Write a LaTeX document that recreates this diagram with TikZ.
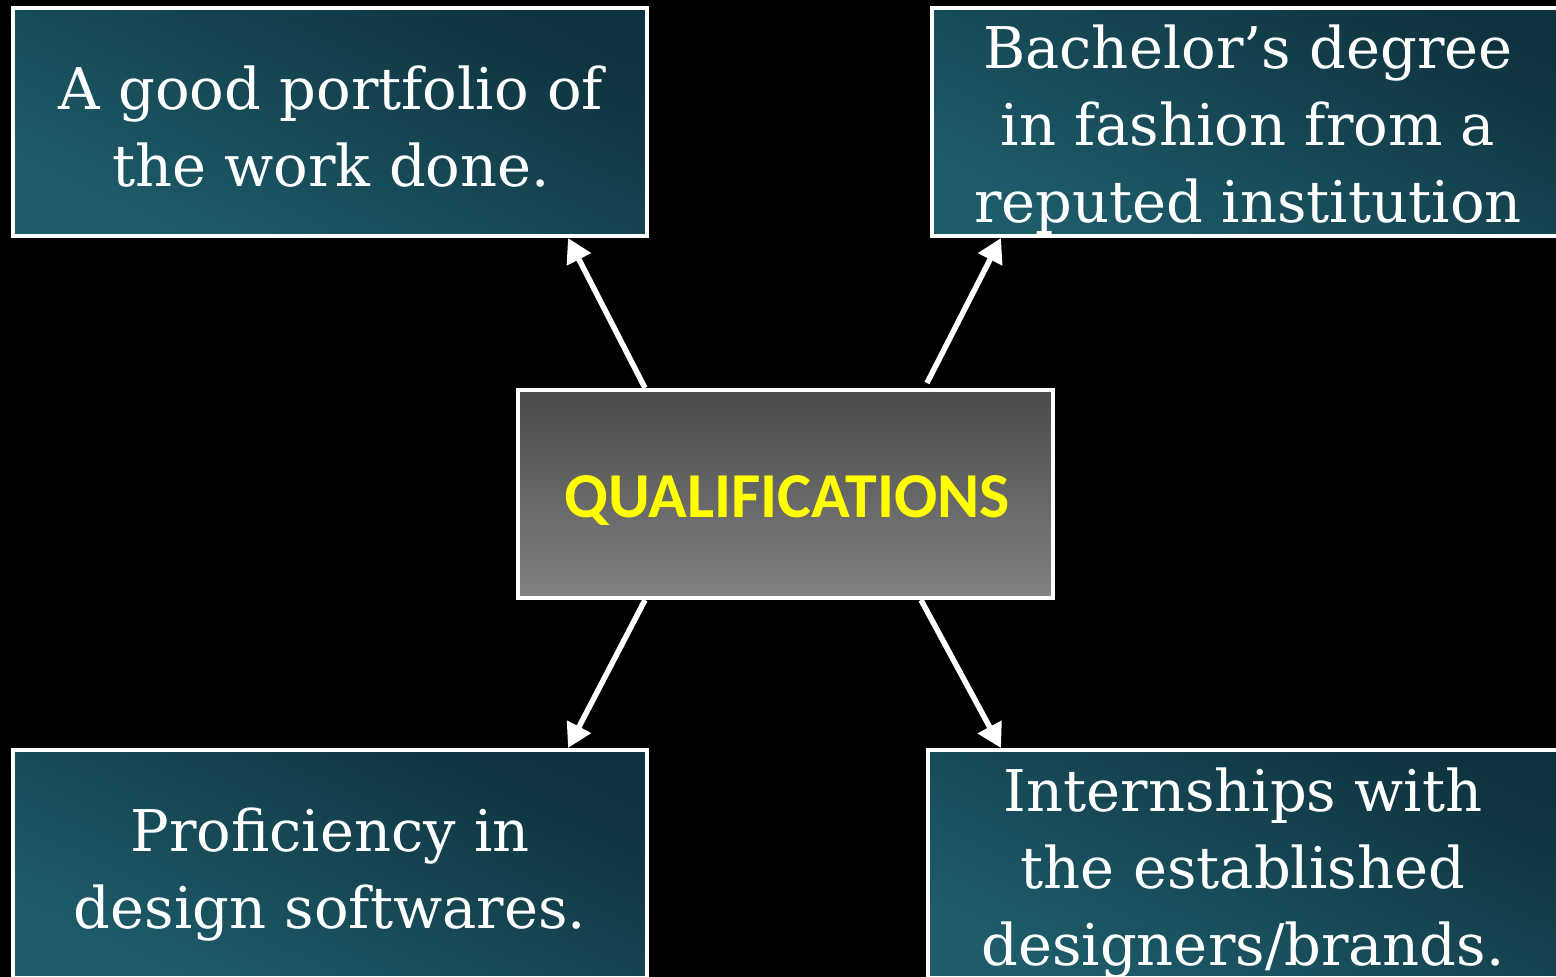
\documentclass[tikz,border=0pt]{standalone}
\usepackage{fontspec}
\newfontfamily\calib{Carlito}
\newfontfamily\serifb{DejaVu Serif}
\usetikzlibrary{arrows.meta}
\definecolor{tealL}{HTML}{1E5C6A}
\definecolor{tealD}{HTML}{0E333E}
\definecolor{grayT}{HTML}{4A4A4A}
\definecolor{grayB}{HTML}{828282}
\definecolor{qyellow}{HTML}{FFFF00}
\tikzset{
  tealbox/.style={draw=white, line width=4pt, rectangle, minimum width=634pt, minimum height=228pt, inner sep=0pt,
    shading=axis, top color=tealD, bottom color=tealL, shading angle=-25},
  centerbox/.style={draw=white, line width=4pt, rectangle, minimum width=535pt, minimum height=208pt, inner sep=0pt,
    top color=grayT, bottom color=grayB},
  boxtext/.style={text=white, align=center, font=\serifb\fontsize{57.5}{77}\selectfont, inner sep=0pt, anchor=base},
  arr/.style={draw=white, line width=5.5pt, -{Triangle[length=24pt,width=26pt]}}
}
\begin{document}
\begin{tikzpicture}[x=1pt,y=-1pt]
\fill[black] (0,0) rectangle (1556,977);
\useasboundingbox (0,0) rectangle (1556,977);
\begin{scope}
\clip (0,0) rectangle (1556,977);
\node[tealbox] (tl) at (330,122) {};
\node[tealbox] (tr) at (1249,122) {};
\node[tealbox] (bl) at (330,864) {};
\node[tealbox] (br) at (1245,864) {};
\node[centerbox] (c) at (785.5,494) {};
\node[boxtext] (tlt) at (331,186) {A good portfolio of\\the work done.};
\node[boxtext] (trt) at (1248,222) {Bachelor’s degree\\in fashion from a\\reputed institution};
\node[boxtext] (blt) at (330,928) {Proficiency in\\design softwares.};
\node[boxtext] (brt) at (1243,965) {Internships with\\the established\\designers/brands.};
\node[text=qyellow, font=\calib\bfseries\fontsize{64}{64}\selectfont, anchor=base] (ct) at (787,517) {QUALIFICATIONS};
\coordinate (s1) at (645,388);
\coordinate (e1) at (568,238);
\coordinate (s2) at (927,383);
\coordinate (e2) at (1001,238);
\coordinate (s3) at (645,600);
\coordinate (e3) at (568,748);
\coordinate (s4) at (921,600);
\coordinate (e4) at (1001,748);
\draw[arr] (s1) -- (e1);
\draw[arr] (s2) -- (e2);
\draw[arr] (s3) -- (e3);
\draw[arr] (s4) -- (e4);
\end{scope}
\end{tikzpicture}
\end{document}
